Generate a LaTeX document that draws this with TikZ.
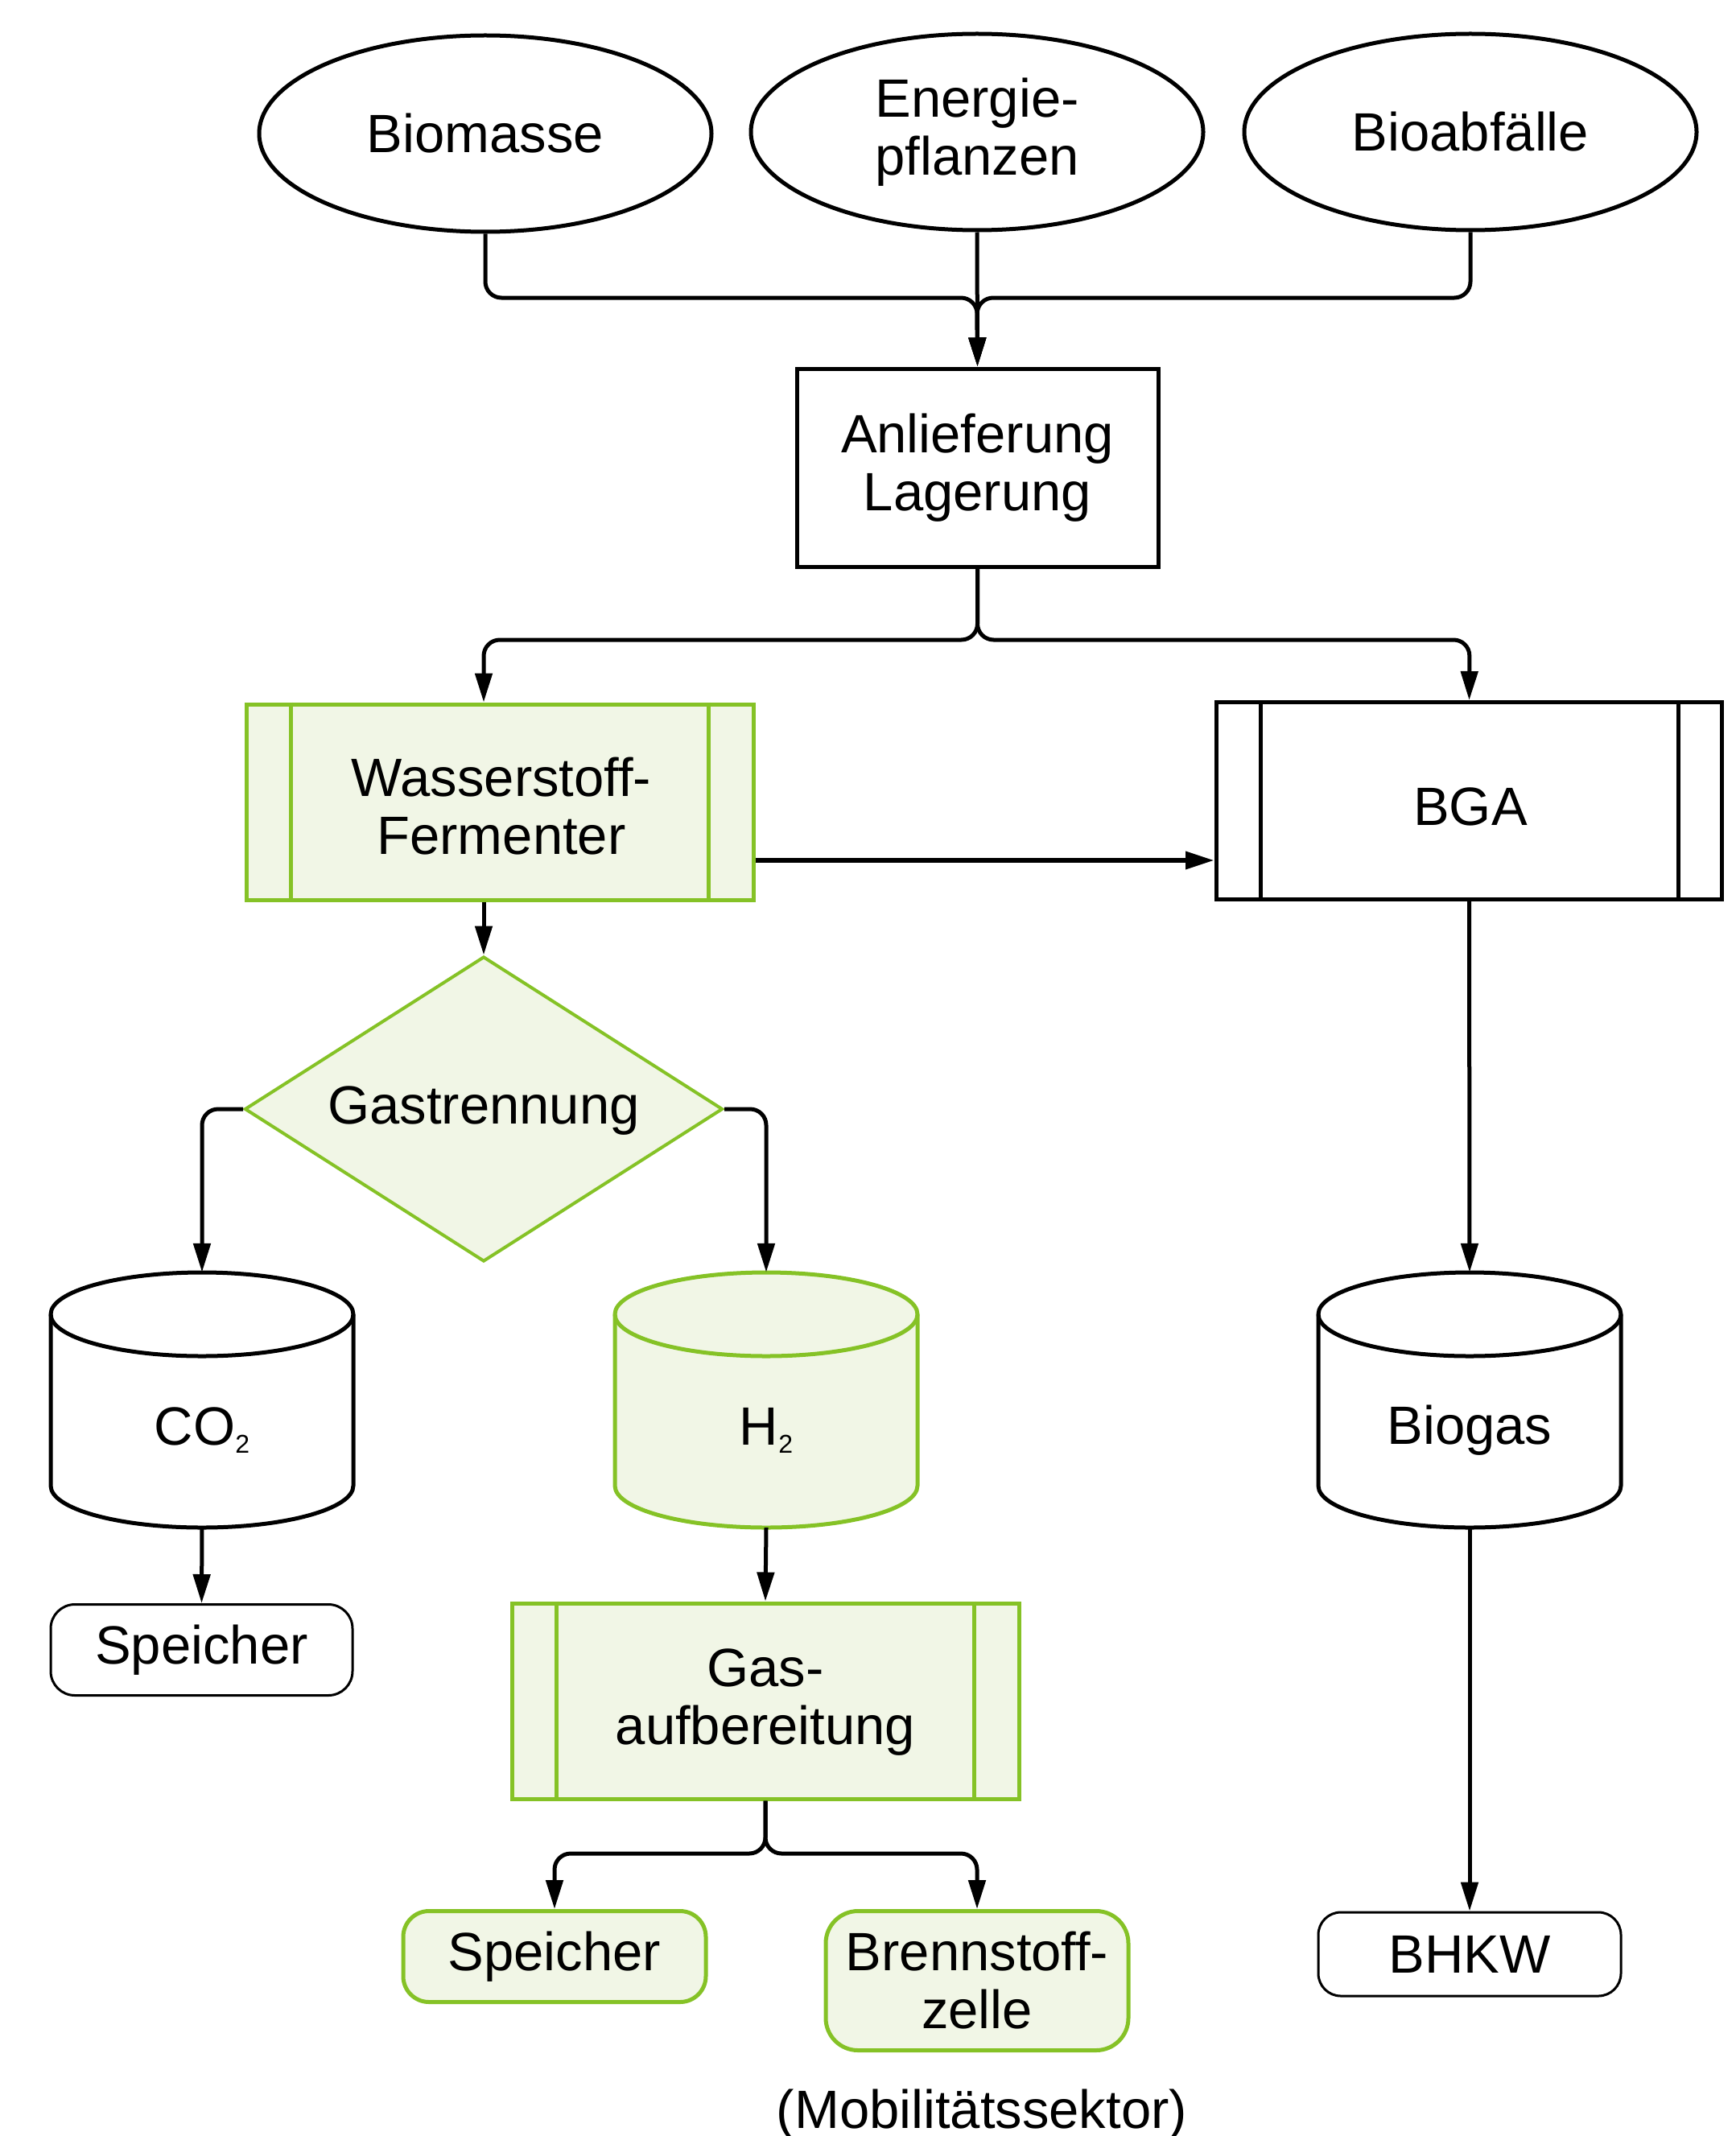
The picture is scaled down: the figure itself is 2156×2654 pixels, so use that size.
\documentclass[tikz,border=0pt]{standalone}
\usepackage{fontspec}
\setmainfont{Liberation Sans}
\usetikzlibrary{shapes.geometric,arrows.meta,calc}
\definecolor{gr}{RGB}{133,194,38}
\definecolor{lt}{RGB}{241,246,230}
\newcommand\drawcyl[2]{%
 \draw[#2] ({#1-188},1633) -- ({#1-188},1846) arc[start angle=180,end angle=360,x radius=188pt,y radius=52pt] -- ({#1+188},1633) arc[start angle=0,end angle=180,x radius=188pt,y radius=52pt] -- cycle;
 \draw[#2,fill=none] ({#1-188},1633) arc[start angle=180,end angle=360,x radius=188pt,y radius=52pt];
}
\newcommand\smallsub[1]{\raisebox{-10pt}{\fontsize{32}{32}\selectfont #1}}
\tikzset{
 conn/.style={line width=5pt, -{Triangle[length=36pt,width=21pt]}, rounded corners=20pt},
 src/.style={ellipse, draw, line width=5pt, minimum width=562pt, minimum height=244pt, inner sep=0pt, align=center},
 box/.style={draw, line width=5pt, inner sep=0pt, align=center},
 gbox/.style={draw=gr, fill=lt, line width=5pt, inner sep=0pt, align=center},
 hull/.style={inner sep=0pt, minimum width=376pt, minimum height=317pt},
 txt/.style={inner sep=0pt, align=center},
}
\begin{document}
\begin{tikzpicture}[x=1pt,y=-1pt,font=\fontsize{67}{72}\selectfont]
\fill[white] (0,0) rectangle (2156,2654);
\useasboundingbox (0,0) rectangle (2156,2654);

% sources
\node[src] (bio) at (603,166) {Biomasse};
\node[src] (ene) at (1214,164) {Energie-\\pflanzen};
\node[src] (abf) at (1827,164) {Bioabfälle};

\node[box, minimum width=449pt, minimum height=246pt] (anl) at (1214.5,581) {Anlieferung\\Lagerung};

% Wasserstoff-Fermenter
\node[gbox, minimum width=630pt, minimum height=243pt] (wf) at (621,996.5) {};
\draw[gr, line width=5pt] ([xshift=58pt]wf.north west) -- ([xshift=58pt]wf.south west);
\draw[gr, line width=5pt] ([xshift=-58pt]wf.north east) -- ([xshift=-58pt]wf.south east);
\node[txt] at (623,1002) {Wasserstoff-\\Fermenter};

% BGA
\node[box, minimum width=628pt, minimum height=245pt] (bga) at (1825.5,995) {};
\draw[line width=5pt] ([xshift=57pt]bga.north west) -- ([xshift=57pt]bga.south west);
\draw[line width=5pt] ([xshift=-57pt]bga.north east) -- ([xshift=-57pt]bga.south east);
\node[txt] at (1827,1002) {BGA};

% Gastrennung
\node[diamond, draw=gr, fill=lt, line width=4pt, inner sep=0pt, minimum width=594pt, minimum height=379pt] (gt) at (601,1378) {};
\node[txt] at (601,1380) {Gastrennung};

% cylinders
\drawcyl{251}{draw=black, fill=white, line width=5pt}
\drawcyl{952}{draw=gr, fill=lt, line width=5pt}
\drawcyl{1826}{draw=black, fill=white, line width=5pt}
\node[hull] (co2) at (251,1739.5) {};
\node[hull] (h2) at (952,1739.5) {};
\node[hull] (bgs) at (1826,1739.5) {};
\node[txt] at (251,1777) {CO\smallsub{2}};
\node[txt] at (952,1777) {H\smallsub{2}};
\node[txt] at (1826,1777) {Biogas};

% lower boxes
\node[draw, line width=3pt, rounded corners=30pt, minimum width=375pt, minimum height=113pt, inner sep=0pt] (sp1) at (250.5,2050) {Speicher};

\node[gbox, minimum width=630pt, minimum height=243pt] (gas) at (951,2113.5) {};
\draw[gr, line width=5pt] ([xshift=58pt]gas.north west) -- ([xshift=58pt]gas.south west);
\draw[gr, line width=5pt] ([xshift=-58pt]gas.north east) -- ([xshift=-58pt]gas.south east);
\node[txt] at (951,2115) {Gas-\\aufbereitung};

\node[gbox, rounded corners=32pt, minimum width=376pt, minimum height=113pt] (sp2) at (689,2431) {Speicher};
\node[gbox, rounded corners=40pt, minimum width=376pt, minimum height=173pt] (bz) at (1214,2461) {Brennstoff-\\zelle};
\node[draw, line width=3pt, rounded corners=28pt, minimum width=376pt, minimum height=104pt, inner sep=0pt] (bhkw) at (1826,2428) {BHKW};

\node[anchor=base, inner sep=0pt] (mob) at (1220,2644) {(Mobilitätssektor)};

% connectors
\coordinate (m1) at (1214,370);
\coordinate (s1) at (601,795);
\coordinate (s2) at (1826,795);
\coordinate (hy) at (0,1069);
\coordinate (g1) at (689,2303);
\coordinate (g2) at (1214,2303);

\draw[conn] (bio.south) |- (m1) -- (anl.north);
\draw[conn] (abf.south) |- (m1) -- (anl.north);
\draw[conn] (ene.south) -- (anl.north);

\draw[conn] (anl.south) |- (s1) -- ([xshift=-20pt]wf.north);
\draw[conn] (anl.south) |- (s2) -- (bga.north);

\draw[conn, line width=6.5pt] (wf.east |- hy) -- (bga.west |- hy);
\draw[conn] ([xshift=-20pt]wf.south) -- (gt.north);

\draw[conn] (gt.west) -| (co2.north);
\draw[conn] (gt.east) -| (h2.north);

\draw[conn] (co2.south) -- (sp1.north);
\draw[conn] (h2.south) -- (gas.north);

\draw[conn] (gas.south) |- (g1) -- (sp2.north);
\draw[conn] (gas.south) |- (g2) -- (bz.north);

\draw[conn] (bga.south) -- (bgs.north);
\draw[conn] (bgs.south) -- (bhkw.north);
\end{tikzpicture}
\end{document}
